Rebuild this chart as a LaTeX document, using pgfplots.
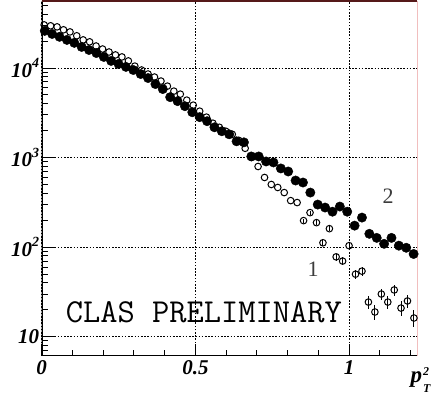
\documentclass[border=0pt]{standalone}
\usepackage{fontspec}
\setmainfont{Liberation Serif}
\usepackage{pgfplots}
\usepackage{pgfplotstable}
\pgfplotsset{compat=1.18}
\definecolor{topred}{RGB}{85,25,25}
\definecolor{rightred}{RGB}{215,70,70}
\definecolor{lblgray}{RGB}{60,60,60}

\pgfplotstableread{
x y
0.010 26000
0.034 24000
0.058 22300
0.082 20600
0.106 19100
0.130 17200
0.154 15900
0.178 14700
0.202 13300
0.226 12000
0.250 11100
0.274 10300
0.298 9500
0.322 8570
0.346 7730
0.370 6620
0.394 5820
0.418 4730
0.442 4270
0.466 3750
0.490 3210
0.514 2830
0.538 2550
0.562 2180
0.586 1970
0.610 1820
0.634 1520
0.658 1480
0.682 1030
0.706 1030
0.730 906
0.754 883
0.778 757
0.802 700
0.826 555
0.850 527
0.874 407
0.898 299
0.922 277
0.946 249
0.970 284
0.994 249
1.018 174
1.042 214
1.066 141
1.090 127
1.114 109
1.138 127
1.162 104
1.186 98.5
1.210 84
}\filled

\pgfplotstableread{
x y e
0.008 30300 0
0.029 29600 0
0.050 28800 0
0.071 26700 0
0.092 25300 0
0.114 22900 0
0.135 20600 0
0.156 19600 0
0.177 17600 0
0.198 16300 0
0.219 15100 0
0.240 14000 0
0.261 13300 0
0.282 12000 0
0.303 10500 0
0.325 9500 0
0.346 8570 0
0.367 7930 0
0.388 7150 0
0.409 6280 0
0.430 5520 0
0.451 5110 0
0.472 4380 0
0.493 3850 0
0.514 3300 0
0.536 2830 0
0.557 2420 0
0.578 2180 0
0.599 1970 0
0.620 1820 0
0.641 1560 0
0.662 1270 0
0.683 1005 0
0.704 796 0
0.725 600 0
0.747 501 0
0.768 464 0
0.789 407 0
0.810 331 0
0.831 315 0
0.852 198 11
0.873 243 12
0.894 188 11
0.915 112 8
0.936 161 10
0.958 78 7
0.979 70 7
1.000 104 8
1.021 50 6
1.042 54 6
1.063 24.4 4
1.084 18.9 3.5
1.105 30 4.5
1.126 24.4 4
1.147 33.3 4.5
1.169 20.9 4
1.190 25.1 4
1.211 16.2 3.5
}\open

\begin{document}
\begin{tikzpicture}
\begin{axis}[
  scale only axis,
  width=375.6pt, height=355pt,
  xmin=0, xmax=1.222,
  ymode=log, ymin=6.1, ymax=56000,
  axis line style={draw=none},
  xtick={0,0.5,1},
  xticklabels={0,0.5,1},
  minor xtick={0.1,0.2,0.3,0.4,0.6,0.7,0.8,0.9,1.1,1.2},
  ytick={10,100,1000,10000},
  yticklabels={10,10\raisebox{0.45em}{\fontsize{14}{14}\selectfont 2},10\raisebox{0.45em}{\fontsize{14}{14}\selectfont 3},10\raisebox{0.45em}{\fontsize{14}{14}\selectfont 4}},
  minor ytick={7,8,9,20,30,40,50,60,70,80,90,200,300,400,500,600,700,800,900,2000,3000,4000,5000,6000,7000,8000,9000,20000,30000,40000,50000},
  xtick pos=left, ytick pos=left,
  tick align=inside,
  major tick length=12pt,
  minor tick length=6pt,
  every tick/.style={black, line width=1pt},
  grid=major,
  major grid style={black, line width=0.8pt, dash pattern=on 1.6pt off 1.6pt},
  ticklabel style={font=\fontsize{21}{21}\selectfont\bfseries\itshape},
  xticklabel style={yshift=-1pt},
  yticklabel style={xshift=1pt},
]
\addplot[only marks, mark=o, mark size=3.3pt,
  mark options={draw=black, fill=white, line width=1pt},
  error bars/.cd, y dir=both, y explicit,
  error bar style={black, line width=0.9pt}, error mark=none]
  table[x=x, y=y, y error=e] {\open};
\addplot[only marks, mark=*, mark size=4.7pt,
  mark options={draw=black, fill=black}]
  table[x=x, y=y] {\filled};

\node[font=\ttfamily\fontsize{33.5}{33.5}\selectfont, anchor=west, inner sep=0pt, text=black]
  at (axis cs:0.078,18.9) {CLAS PRELIMINARY};
\node[font=\fontsize{22}{22}\selectfont, text=lblgray] at (axis cs:0.883,57) {1};
\node[font=\fontsize{22}{22}\selectfont, text=lblgray] at (axis cs:1.127,367) {2};

\draw[black, line width=1.8pt] (rel axis cs:0,1) -- (rel axis cs:0,0) -- (rel axis cs:1,0);
\draw[topred, line width=1.6pt] (rel axis cs:0,1) -- (rel axis cs:1,1);
\draw[rightred, line width=1.3pt] (rel axis cs:1,1) -- (rel axis cs:1,0);
\end{axis}
\node[font=\fontsize{23}{23}\selectfont\bfseries\itshape, anchor=base west, inner sep=0pt]
  at ([xshift=-7pt,yshift=-26pt]current axis.south east)
  {p\kern1pt\raisebox{-10pt}{\fontsize{12}{16.5}\selectfont\bfseries\itshape\begin{tabular}[b]{@{}l@{}}2\\T\end{tabular}}};
\path ([xshift=-41.7pt,yshift=-40pt]current axis.south west) rectangle ([xshift=19.7pt,yshift=1pt]current axis.north east);
\end{tikzpicture}
\end{document}
